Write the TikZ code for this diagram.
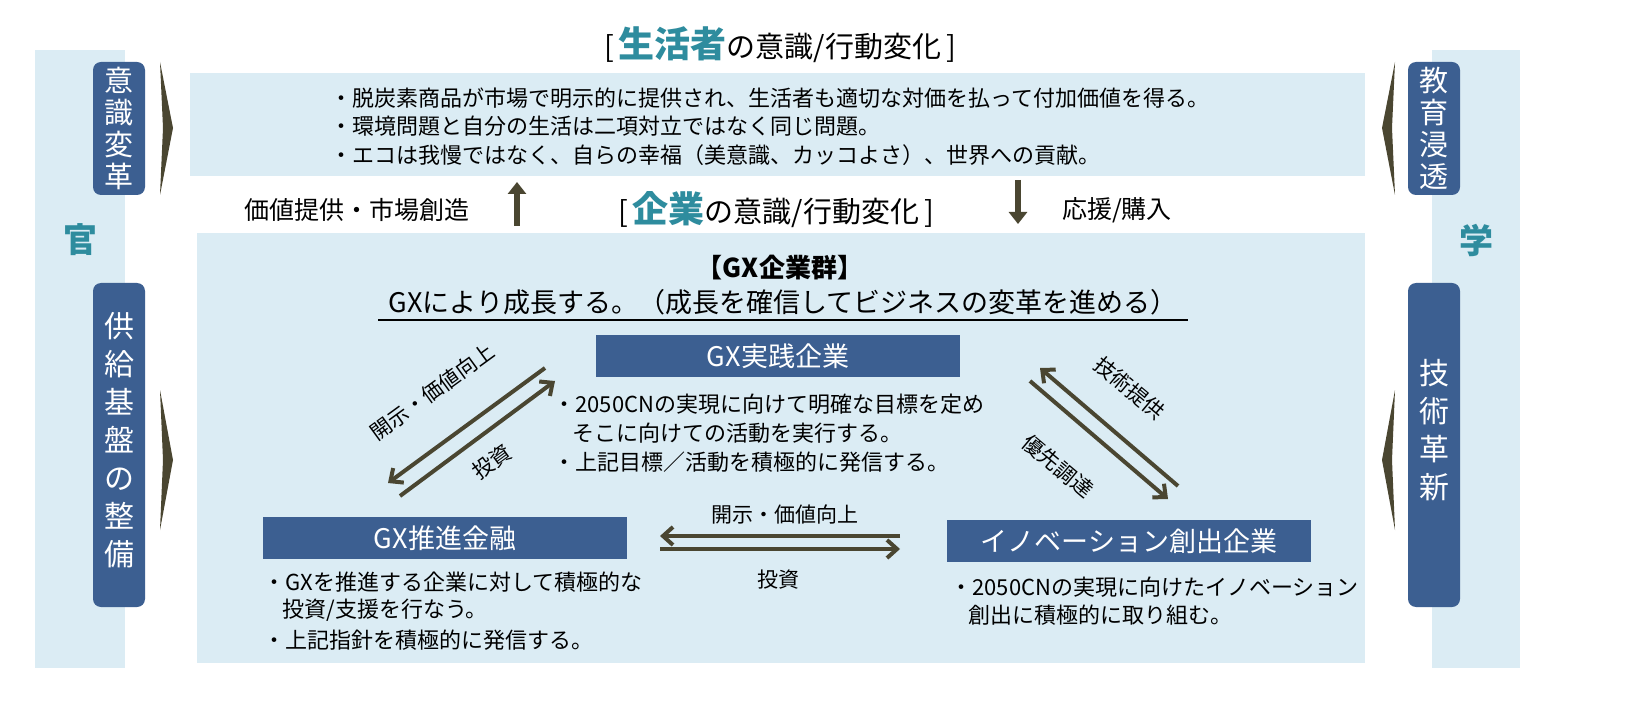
\documentclass[tikz,border=0pt]{standalone}
\usepackage{fontspec}
\setmainfont{Noto Sans CJK JP}
\usetikzlibrary{arrows.meta}
\definecolor{paleblue}{HTML}{DBECF4}
\definecolor{darkblue}{HTML}{3C5F91}
\definecolor{olive}{HTML}{4A4631}
\definecolor{teal}{HTML}{2E8C9E}
\tikzset{
  sidebox/.style={fill=darkblue, rounded corners=4pt, draw=none},
  sidetext/.style={text=white, align=center, font=\fontsize{15}{19}\selectfont, inner sep=0pt},
  shorttext/.style={sidetext, font=\fontsize{14.5}{16}\selectfont},
  bluebox/.style={fill=darkblue, text=white, minimum width=182pt, minimum height=21pt, inner sep=0pt, font=\fontsize{13.5}{15}\selectfont},
  bullet/.style={anchor=west, inner sep=0pt, font=\fontsize{11}{12}\selectfont},
  midtext/.style={inner sep=0pt, font=\fontsize{12.5}{14}\selectfont},
  flowlabel/.style={inner sep=0pt, font=\fontsize{10.5}{12}\selectfont},
  flow/.style={olive, line width=2pt, -{Straight Barb[length=5pt,width=9pt]}},
  bigarrow/.style={olive, line width=2.6pt, -{Triangle[length=6pt,width=9pt]}},
}
\begin{document}
\begin{tikzpicture}[x=0.5pt, y=-0.5pt]
  \useasboundingbox (0,0) rectangle (1628,727);
  \fill[white] (0,0) rectangle (1628,727);

  % side columns
  \fill[paleblue] (35,50) rectangle (125,668);
  \fill[paleblue] (1432,50) rectangle (1520,668);
  \node[text=teal, font=\fontsize{17}{17}\selectfont\bfseries] (kan) at (80,240) {官};
  \node[text=teal, font=\fontsize{17}{17}\selectfont\bfseries] (gaku) at (1476,240) {学};

  % side boxes
  \fill[sidebox] (93,62) rectangle (145,195);
  \fill[sidebox] (93,283) rectangle (145,607);
  \fill[sidebox] (1408,62) rectangle (1460,195);
  \fill[sidebox] (1408,283) rectangle (1460,607);
  \node[shorttext] (ishiki) at (119,128) {意\\識\\変\\革};
  \node[sidetext] (kyokyu) at (119,440) {供\\給\\基\\盤\\の\\整\\備};
  \node[shorttext] (kyoiku) at (1434,128) {教\\育\\浸\\透};
  \node[sidetext] (gijutsu) at (1434,430) {技\\術\\革\\新};

  % chevrons
  \fill[olive] (160,62) -- (173,128) -- (160,195) -- (163,128) -- cycle;
  \fill[olive] (160,390) -- (173,460) -- (160,530) -- (163,460) -- cycle;
  \fill[olive] (1395,62) -- (1382,128) -- (1395,195) -- (1392,128) -- cycle;
  \fill[olive] (1395,390) -- (1382,460) -- (1395,530) -- (1392,460) -- cycle;

  % consumer box
  \node[inner sep=0pt, font=\fontsize{14.5}{16}\selectfont] (seikatsu) at (780,45)
    {[\,{\color{teal}\fontsize{18}{18}\selectfont\bfseries 生活者}の意識/行動変化\,]};
  \fill[paleblue] (190,73) rectangle (1365,176);
  \node[bullet] (b1) at (330,98) {・脱炭素商品が市場で明示的に提供され、生活者も適切な対価を払って付加価値を得る。};
  \node[bullet] (b2) at (330,126) {・環境問題と自分の生活は二項対立ではなく同じ問題。};
  \node[bullet] (b3) at (330,155) {・エコは我慢ではなく、自らの幸福（美意識、カッコよさ）、世界への貢献。};

  % middle row
  \node[midtext] (kachi) at (357,210) {価値提供・市場創造};
  \node[inner sep=0pt, font=\fontsize{14.5}{16}\selectfont] (kigyo) at (776,210)
    {[\,{\color{teal}\fontsize{18}{18}\selectfont\bfseries 企業}の意識/行動変化\,]};
  \node[midtext] (oen) at (1117,210) {応援/購入};
  \coordinate (upS) at (517,226);
  \coordinate (upN) at (517,182);
  \coordinate (dnN) at (1018,180);
  \coordinate (dnS) at (1018,224);
  \draw[bigarrow] (upS) -- (upN);
  \draw[bigarrow] (dnN) -- (dnS);

  % company box
  \fill[paleblue] (197,233) rectangle (1365,663);
  \node[inner sep=0pt, font=\fontsize{13}{14}\selectfont\bfseries] (gun) at (780,268) {【GX企業群】};
  \node[inner sep=0pt, font=\fontsize{13.5}{15}\selectfont] (seicho) at (783,302)
    {GXにより成長する。（成長を確信してビジネスの変革を進める）};
  \draw[line width=1.2pt] (378,320) -- (1188,320);

  \node[bluebox] (jissen) at (778,356) {GX実践企業};
  \node[bluebox] (kinyu) at (445,538) {GX推進金融};
  \node[bluebox] (inov) at (1129,541) {イノベーション創出企業};

  \node[bullet] (j1) at (553,404) {・2050CNの実現に向けて明確な目標を定め};
  \node[bullet] (j2) at (572,433) {そこに向けての活動を実行する。};
  \node[bullet] (j3) at (553,462) {・上記目標／活動を積極的に発信する。};
  \node[bullet] (k1) at (263,582) {・GXを推進する企業に対して積極的な};
  \node[bullet] (k2) at (282,610) {投資/支援を行なう。};
  \node[bullet] (k3) at (263,640) {・上記指針を積極的に発信する。};
  \node[bullet] (i1) at (950,587) {・2050CNの実現に向けたイノベーション};
  \node[bullet] (i2) at (968,615) {創出に積極的に取り組む。};

  % flows between groups
  \coordinate (la1) at (545,368);
  \coordinate (la2) at (388,483);
  \coordinate (lb1) at (400,496);
  \coordinate (lb2) at (555,381);
  \draw[flow] (la1) -- (la2);
  \draw[flow] (lb1) -- (lb2);
  \node[flowlabel, rotate=36] (lkaiji) at (432,392) {開示・価値向上};
  \node[flowlabel, rotate=36] (ltoshi) at (492,462) {投資};

  \coordinate (ha1) at (900,536);
  \coordinate (ha2) at (660,536);
  \coordinate (hb1) at (660,549);
  \coordinate (hb2) at (900,549);
  \draw[flow] (ha1) -- (ha2);
  \draw[flow] (hb1) -- (hb2);
  \node[flowlabel] (hkaiji) at (785,515) {開示・価値向上};
  \node[flowlabel] (htoshi) at (778,580) {投資};

  \coordinate (ra1) at (1178,486);
  \coordinate (ra2) at (1040,368);
  \coordinate (rb1) at (1030,381);
  \coordinate (rb2) at (1168,499);
  \draw[flow] (ra1) -- (ra2);
  \draw[flow] (rb1) -- (rb2);
  \node[flowlabel, rotate=-40] (rgijutsu) at (1130,388) {技術提供};
  \node[flowlabel, rotate=-40] (rchotatsu) at (1058,466) {優先調達};
\end{tikzpicture}
\end{document}
